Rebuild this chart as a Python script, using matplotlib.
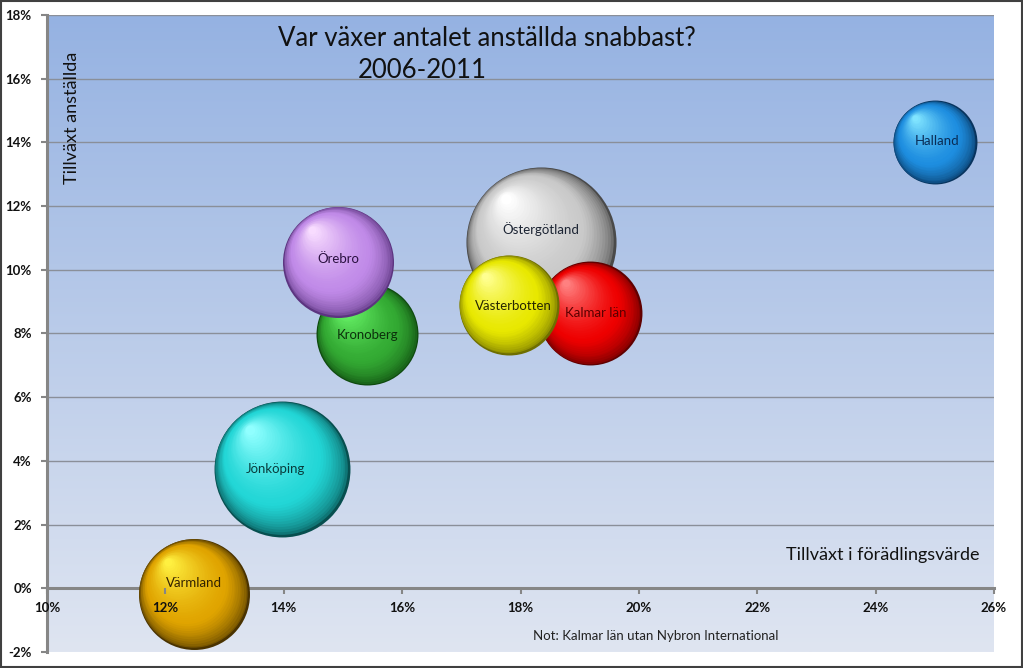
import numpy as np
import matplotlib
matplotlib.use("Agg")
from matplotlib import pyplot as plt
from matplotlib import transforms
from matplotlib.colors import to_rgb
from matplotlib.patches import Rectangle
from matplotlib.ticker import FuncFormatter, MultipleLocator

plt.rcParams['font.family'] = ['Lato', 'DejaVu Sans']

# data, drawing order = list order
lan = ['Östergötland', 'Kalmar län', 'Västerbotten', 'Kronoberg',
       'Örebro', 'Jönköping', 'Värmland', 'Halland']
forad = [18.34, 19.17, 17.80, 15.41, 14.92, 13.97, 12.48, 25.0]    # x, %
anst = [10.86, 8.63, 8.89, 7.97, 10.24, 3.74, -0.19, 14.0]        # y, %
storlek = [56.3, 27.0, 25.0, 26.0, 30.8, 46.2, 30.8, 17.6]        # bubble size

base_col = ['#c9c9c9', '#ee0000', '#e8e800', '#33aa33',
            '#c08ae8', '#22d6d6', '#e0a400', '#1e8ee0']
high_col = ['#ffffff', '#ff8080', '#ffff90', '#70ff70',
            '#f8dcff', '#90ffff', '#fff040', '#80e4ff']
dark_col = ['#4a4a4a', '#600000', '#6e6e00', '#0f4a0f',
            '#5c3480', '#074f4f', '#4a3300', '#08345e']
txt_col = ['#1c2433', '#5a0000', '#262600', '#0c300c',
           '#2a1040', '#083c3c', '#332200', '#0a2c55']
lab_off = [(0, 13), (6, 0), (5, -1), (0, -1), (0, 3), (-7, 0), (0, 11), (2, 1)]

fig = plt.figure(figsize=(10.23, 6.68), dpi=100)
ax = fig.add_axes([0.046, 0.024, 0.9256, 0.9536])
ax.set_xlim(10, 26)
ax.set_ylim(-2, 18)

# gradient background
grad = np.linspace(0, 1, 256).reshape(-1, 1)
top = np.array(to_rgb('#95b2e2'))
bot = np.array(to_rgb('#dfe5f1'))
img = top[None, None, :] * (1 - grad[:, :, None]) + bot[None, None, :] * grad[:, :, None]
ax.imshow(img, extent=[0, 1, 0, 1], transform=ax.transAxes, aspect='auto', zorder=0)

ax.yaxis.set_major_locator(MultipleLocator(2))
ax.xaxis.set_major_locator(MultipleLocator(2))
for yv in np.arange(2, 19, 2):
    ax.axhline(yv, color='#8a8f99', lw=1.0, zorder=1)
pct = FuncFormatter(lambda v, p: '%d%%' % round(v))
ax.xaxis.set_major_formatter(pct)
ax.yaxis.set_major_formatter(pct)

for s in ['top', 'right']:
    ax.spines[s].set_visible(False)
ax.spines['bottom'].set_position(('data', 0))
for s in ['left', 'bottom']:
    ax.spines[s].set_color('#868686')
    ax.spines[s].set_linewidth(2.2)
    ax.spines[s].set_zorder(2)
ax.tick_params(axis='both', direction='out', length=4, width=1.5, color='#868686',
               labelsize=9.5, labelcolor='#111111')
ax.tick_params(axis='x', pad=6)
ax.tick_params(axis='y', pad=7)
for t in ax.get_xticklabels() + ax.get_yticklabels():
    t.set_fontweight('bold')
ax.xaxis.set_zorder(10)
ax.yaxis.set_zorder(10)

# shaded bubbles
n = 40
for i in range(len(lan)):
    r = np.sqrt(storlek[i] * 100) * 0.72      # radius in points
    b = np.array(to_rgb(base_col[i]))
    h = np.array(to_rgb(high_col[i]))
    d = np.array(to_rgb(dark_col[i]))
    for k in range(n):
        t = k / (n - 1)
        rk = r * (1 - 0.93 * t)
        dx = -(r - rk) * 0.5
        dy = (r - rk) * 0.62
        if t < 0.3:
            c = d + (b - d) * (t / 0.3) ** 0.5
        else:
            c = b + (h - b) * ((t - 0.3) / 0.7) ** 1.4
        tr = transforms.offset_copy(ax.transData, fig=fig, x=dx, y=dy, units='points')
        ax.scatter([forad[i]], [anst[i]], s=(2 * rk) ** 2, color=[c],
                   transform=tr, linewidths=0, zorder=3 + i * 0.01, clip_on=False)
    ox, oy = lab_off[i]
    ax.annotate(lan[i], (forad[i], anst[i]), xytext=(ox * 0.72, oy * 0.72),
                textcoords='offset points', ha='center', va='center',
                fontsize=9.5, color=txt_col[i], zorder=5)

fig.text(487 / 1023, 1 - 38 / 668, 'Var växer antalet anställda snabbast?',
         ha='center', va='center', fontsize=18.5, color='#111111')
fig.text(422 / 1023, 1 - 71 / 668, '2006-2011', ha='center', va='center',
         fontsize=18.5, color='#111111')
fig.text(72 / 1023, 1 - 118 / 668, 'Tillväxt anställda', rotation=90,
         ha='center', va='center', fontsize=13, color='#111111')
fig.text(980 / 1023, 1 - 555 / 668, 'Tillväxt i förädlingsvärde',
         ha='right', va='center', fontsize=13, color='#111111')
fig.text(533 / 1023, 1 - 636 / 668, 'Not: Kalmar län utan Nybron International',
         ha='left', va='center', fontsize=9.5, color='#222222')

fig.patches.append(Rectangle((0.001, 0.001), 0.998, 0.997, transform=fig.transFigure,
                             fill=False, edgecolor='#404040', lw=1.5))

fig.savefig('out.png', dpi=100)
